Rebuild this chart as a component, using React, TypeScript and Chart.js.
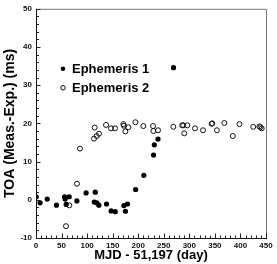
import { useEffect, useRef } from 'react';
import { Chart, registerables } from 'chart.js';

Chart.register(...registerables);

const SERIES_LABELS = ['Ephemeris 1', 'Ephemeris 2'];

const EPH1_X = [0.5, 8, 22, 40, 56, 57, 59, 65, 80, 98, 114, 116, 119, 123, 138, 147, 155, 172, 175, 179, 195, 211, 230, 231.5, 238.7, 269];
const EPH1_Y = [0.8, -0.8, 0.2, -1.4, 0.8, 0.2, -1.2, 0.8, -0.3, 1.8, -0.6, 2.0, -0.8, -1.4, -1.1, -2.9, -3.1, -1.5, -3.0, -1.1, 2.7, 6.4, 11.7, 14.4, 15.9, 34.6];

const EPH2_X = [58.7, 65.2, 80.2, 86, 113.5, 114.8, 118.7, 123.3, 137, 146.8, 154.6, 170.9, 172, 174.8, 180.7, 194.4, 210, 229, 229.6, 238.7, 268.7, 286, 288, 290, 296, 311, 326.8, 343.5, 345, 354, 368.5, 385, 398, 425, 437, 439, 441.6];
const EPH2_Y = [-6.9, -1.45, 4.2, 13.4, 16.0, 18.9, 16.7, 17.3, 19.6, 18.7, 18.7, 19.8, 19.4, 17.9, 19.0, 20.3, 19.3, 19.3, 18.0, 18.2, 19.1, 19.5, 19.5, 17.4, 19.5, 18.7, 18.2, 19.9, 20.0, 18.2, 20.1, 16.7, 19.8, 19.1, 19.2, 19.0, 18.7];

const X_TICKS = [0, 50, 100, 150, 200, 250, 300, 350, 400, 450];
const Y_TICKS = [-10, 0, 10, 20, 30, 40, 50];
const X_MINOR_STEP = 10;
const Y_MINOR_STEP = 2;

const X_TITLE = 'MJD - 51,197 (day)';
const Y_TITLE = 'TOA (Meas.-Exp.) (ms)';

const FONT = "'Liberation Sans', Arial, Helvetica, sans-serif";

const framePlugin = {
  id: 'frameTicks',
  afterDraw(chart: any) {
    const { ctx, chartArea: a, scales } = chart;
    const xs = scales.x;
    const ys = scales.y;
    ctx.save();
    ctx.lineWidth = 1;
    // frame
    ctx.strokeStyle = '#777';
    ctx.beginPath();
    ctx.moveTo(a.left, a.top + 0.5);
    ctx.lineTo(a.right + 0.5, a.top + 0.5);
    ctx.lineTo(a.right + 0.5, a.bottom);
    ctx.stroke();
    ctx.strokeStyle = '#111';
    ctx.beginPath();
    ctx.moveTo(a.left + 0.5, a.top);
    ctx.lineTo(a.left + 0.5, a.bottom + 0.5);
    ctx.lineTo(a.right + 1, a.bottom + 0.5);
    ctx.stroke();
    // x ticks (inward)
    ctx.strokeStyle = '#222';
    ctx.beginPath();
    for (let v = X_TICKS[0]; v <= X_TICKS[X_TICKS.length - 1] + 1e-9; v += X_MINOR_STEP) {
      const px = Math.round(xs.getPixelForValue(v)) + 0.5;
      const major = X_TICKS.includes(v);
      const len = major ? 4.5 : 2.5;
      ctx.moveTo(px, a.bottom);
      ctx.lineTo(px, a.bottom - len);
    }
    for (let v = Y_TICKS[0]; v <= Y_TICKS[Y_TICKS.length - 1] + 1e-9; v += Y_MINOR_STEP) {
      const py = Math.round(ys.getPixelForValue(v)) + 0.5;
      const major = Y_TICKS.includes(v);
      const len = major ? 4.5 : 3;
      ctx.moveTo(a.left, py);
      ctx.lineTo(a.left + len, py);
    }
    ctx.stroke();
    // legend
    const lx = a.left + 27;
    const rows = [a.top + 60, a.top + 79];
    ctx.font = `bold 13px ${FONT}`;
    ctx.textBaseline = 'middle';
    ctx.fillStyle = '#000';
    chart.data.datasets.forEach((ds: any, i: number) => {
      const yy = rows[i];
      ctx.beginPath();
      ctx.arc(lx, yy, i === 0 ? 2.3 : 2.2, 0, Math.PI * 2);
      if (i === 0) {
        ctx.fillStyle = '#000';
        ctx.fill();
      } else {
        ctx.strokeStyle = '#000';
        ctx.lineWidth = 1;
        ctx.stroke();
      }
      ctx.fillStyle = '#000';
      ctx.fillText(ds.label, lx + 9, yy + 0.5);
    });
    ctx.restore();
  },
};

export default function App() {
  const ref = useRef<HTMLCanvasElement | null>(null);

  useEffect(() => {
    document.body.style.margin = '0';
    const canvas = ref.current;
    if (!canvas) return;
    const chart = new Chart(canvas, {
      type: 'scatter',
      data: {
        datasets: [
          {
            label: SERIES_LABELS[0],
            data: EPH1_X.map((x, i) => ({ x, y: EPH1_Y[i] })),
            pointRadius: 2.6,
            pointBackgroundColor: '#000',
            pointBorderColor: '#000',
            pointBorderWidth: 0,
          },
          {
            label: SERIES_LABELS[1],
            data: EPH2_X.map((x, i) => ({ x, y: EPH2_Y[i] })),
            pointRadius: 2.5,
            pointBackgroundColor: 'rgba(255,255,255,0)',
            pointBorderColor: '#111',
            pointBorderWidth: 1,
          },
        ],
      },
      options: {
        responsive: false,
        animation: false,
        devicePixelRatio: 1,
        layout: { padding: { top: 4, right: 11, left: 0, bottom: 0 } },
        plugins: {
          legend: { display: false },
          tooltip: { enabled: false },
        },
        scales: {
          x: {
            type: 'linear',
            min: 0,
            max: 450,
            afterBuildTicks: (s: any) => {
              s.ticks = X_TICKS.map((v) => ({ value: v }));
            },
            afterFit: (s: any) => {
              s.height = 26;
            },
            grid: { display: false, drawTicks: false, tickLength: 0 },
            border: { display: false },
            ticks: {
              padding: 3,
              maxRotation: 0,
              autoSkip: false,
              color: '#111',
              font: { family: FONT, size: 8, weight: 'bold' },
            },
            title: {
              display: true,
              text: X_TITLE,
              color: '#000',
              padding: { top: 0, bottom: 1 },
              font: { family: FONT, size: 13, weight: 'bold' },
            },
          },
          y: {
            type: 'linear',
            min: -10,
            max: 50,
            afterBuildTicks: (s: any) => {
              s.ticks = Y_TICKS.map((v) => ({ value: v }));
            },
            afterFit: (s: any) => {
              s.width = 36;
            },
            grid: { display: false, drawTicks: false, tickLength: 0 },
            border: { display: false },
            ticks: {
              padding: 4,
              autoSkip: false,
              color: '#111',
              font: { family: FONT, size: 8, weight: 'bold' },
            },
            title: {
              display: true,
              text: Y_TITLE,
              color: '#000',
              padding: { top: 2, bottom: 0 },
              font: { family: FONT, size: 14, weight: 'bold' },
            },
          },
        },
      },
      plugins: [framePlugin],
    });
    return () => chart.destroy();
  }, []);

  return (
    <div style={{ width: 277, height: 264 }}>
      <canvas ref={ref} width={277} height={264} style={{ display: 'block' }} />
    </div>
  );
}
